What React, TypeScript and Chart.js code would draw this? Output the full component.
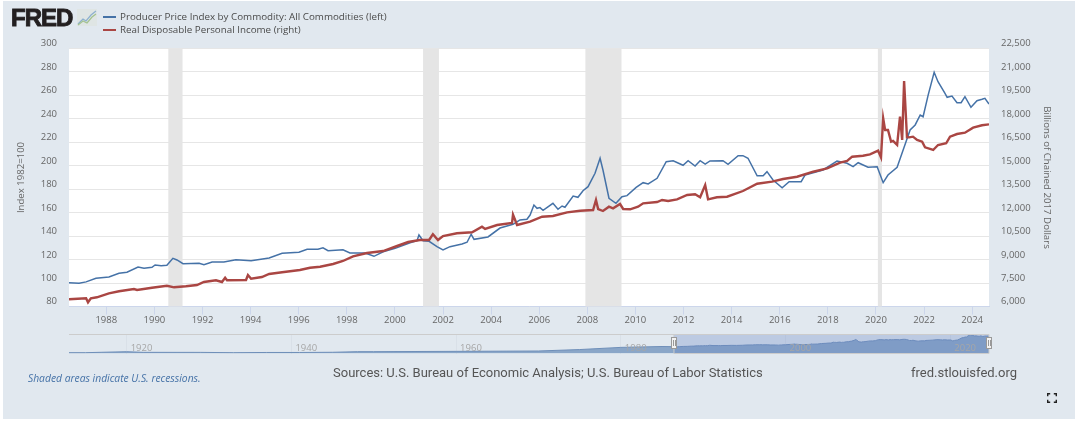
import React, { useEffect, useRef } from "react";
import { Chart, registerables } from "chart.js";

Chart.register(...registerables);

const ppiYears = [1986.45,1986.87,1987.16,1987.57,1988.11,1988.53,1988.86,1989.32,1989.57,1989.9,1990.03,1990.28,1990.52,1990.77,1990.94,1991.19,1991.86,1992.06,1992.4,1992.89,1993.39,1994.02,1994.77,1995.31,1996.01,1996.35,1996.8,1997.01,1997.22,1997.84,1998.13,1998.76,1999.13,1999.51,2000.01,2000.63,2000.92,2001.0,2001.17,2001.42,2001.75,2002.0,2002.29,2002.79,2003.0,2003.17,2003.29,2003.87,2004.37,2004.91,2005.2,2005.49,2005.62,2005.78,2005.91,2006.03,2006.16,2006.57,2006.78,2006.95,2007.07,2007.41,2007.61,2007.82,2008.03,2008.32,2008.53,2008.65,2008.9,2009.19,2009.44,2009.65,2010.03,2010.32,2010.53,2010.9,2011.28,2011.57,2011.98,2012.19,2012.48,2012.69,2012.9,2013.1,2013.64,2013.85,2014.27,2014.47,2014.68,2015.06,2015.31,2015.47,2015.72,2016.1,2016.39,2016.89,2017.05,2017.8,2018.38,2018.8,2019.05,2019.26,2019.67,2020.05,2020.3,2020.5,2020.88,2021.13,2021.42,2021.63,2021.84,2021.96,2022.17,2022.42,2022.58,2022.87,2022.96,2023.16,2023.37,2023.54,2023.7,2023.95,2024.2,2024.41,2024.53,2024.7];
const ppiValues = [100.3,99.8,101,104,105.2,108.3,109.2,113.7,112.6,113.4,115.4,114.8,115.1,121.1,119.7,116.5,116.8,115.6,118,118,119.9,119,121.4,125.4,126.2,128.8,128.8,130.1,127.6,128.4,125.6,125.6,122.8,126.7,129.6,134.4,136.1,141,136.1,135.6,131,128.2,131,133.3,134.8,141.6,137.3,139.3,146.9,150.1,153.8,154.4,158,166.5,163.7,164.3,162,168,162.9,165.7,164.6,174.2,173.1,178.7,182.2,193.6,206.4,196.4,172.3,168,173.6,174.5,181.6,185.6,184.5,189.3,203.5,204.3,200.4,204.3,199.8,204.3,201.5,204.1,204.3,201.3,208.6,208.6,206.4,191.5,191.5,195,187.9,181.3,186.4,186.4,192.1,196.4,204,202.1,199.2,202.6,198.7,199.2,185.6,192.1,198.7,213.4,230.5,234.8,243.3,241.8,260.3,279.7,271.7,261.8,258.4,259.5,253.8,253.8,258.9,249.9,255.5,256.7,257.5,252.7];

const incomeYears = [1986.45,1987.16,1987.24,1987.36,1987.61,1988.11,1988.53,1989.15,1989.28,1989.9,1990.52,1990.82,1991.31,1991.77,1992.06,1992.56,1992.81,1992.94,1993.02,1993.81,1993.89,1994.02,1994.47,1994.77,1995.31,1996.05,1996.47,1996.89,1997.43,1997.84,1998.26,1998.84,1999.51,2000.09,2000.55,2001.04,2001.42,2001.58,2001.79,2002.0,2002.58,2003.21,2003.62,2003.75,2004.25,2004.87,2004.91,2005.08,2005.62,2006.12,2006.57,2007.16,2007.7,2008.24,2008.36,2008.45,2008.65,2008.9,2009.07,2009.36,2009.49,2009.78,2010.11,2010.32,2010.9,2011.11,2011.36,2011.73,2012.15,2012.48,2012.69,2012.9,2013.02,2013.39,2013.81,2014.47,2015.06,2015.68,2016.14,2016.72,2017.39,2017.97,2018.51,2018.8,2019.01,2019.46,2019.75,2020.09,2020.21,2020.3,2020.38,2020.5,2020.63,2020.71,2020.88,2021.0,2021.09,2021.17,2021.29,2021.38,2021.54,2021.71,2021.92,2022.04,2022.38,2022.58,2022.92,2023.08,2023.37,2023.7,2024.04,2024.41,2024.7];
const incomeValues = [6460,6524,6269,6524,6588,6844,6972,7119,7055,7202,7330,7228,7292,7375,7567,7675,7567,7842,7675,7695,8014,7778,7887,8078,8187,8334,8481,8545,8718,8910,9210,9421,9549,9869,10125,10253,10253,10617,10253,10508,10681,10745,11104,10956,11212,11340,11870,11212,11423,11743,11788,12024,12126,12171,12811,12235,12107,12382,12279,12555,12235,12216,12382,12600,12683,12811,12747,12855,13130,13175,12983,13770,12855,12983,13020,13386,13854,13982,14152,14300,14620,14838,15196,15305,15580,15644,15733,15964,15541,18035,17287,17287,16540,16585,16330,18138,16650,20420,16820,16820,16860,16650,16540,16180,16010,16330,16440,16860,17030,17115,17435,17590,17650];

const earlyYears = [1913,1915,1917,1920,1922,1929,1933,1937,1941,1945,1948,1950,1960,1970,1975,1980,1985];
const earlyPpi = [12,12,18,26.6,16.8,16.4,12,15,15,18,27,27,31.7,37,58,90,103];

const recessionStarts = [1990.58,2001.17,2007.92,2020.08];
const recessionEnds = [1991.17,2001.83,2009.42,2020.25];

const leftTicks = [80,100,120,140,160,180,200,220,240,260,280,300];
const rightTicks = [6000,7500,9000,10500,12000,13500,15000,16500,18000,19500,21000,22500];

const viewStart = 1986.45;
const viewEnd = 2024.7;
const historyStart = 1913;

const BLUE = "#4572a7";
const RED = "#aa4643";
const TICKFONT = { family: "'Open Sans'", size: 9.5 };

const pairs = (xs: number[], ys: number[]) => xs.map((x, i) => ({ x, y: ys[i] }));

const mainBackdrop = {
  id: "mainBackdrop",
  beforeDraw(c: any) {
    const { ctx, chartArea: a } = c;
    ctx.save();
    ctx.fillStyle = "#ffffff";
    ctx.fillRect(a.left, a.top, a.right - a.left, a.bottom - a.top);
    ctx.restore();
  },
  beforeDatasetsDraw(c: any) {
    const { ctx, chartArea: a, scales } = c;
    ctx.save();
    ctx.fillStyle = "#e5e5e5";
    recessionStarts.forEach((s, i) => {
      const l = scales.x.getPixelForValue(s);
      const r = scales.x.getPixelForValue(recessionEnds[i]);
      ctx.fillRect(l, a.top, r - l, a.bottom - a.top);
    });
    ctx.restore();
  },
};

const navigatorOverlay = {
  id: "navigatorOverlay",
  afterDatasetsDraw(c: any) {
    const { ctx, chartArea: a, scales } = c;
    const l = scales.x.getPixelForValue(viewStart);
    const r = scales.x.getPixelForValue(viewEnd);
    ctx.save();
    ctx.fillStyle = "rgba(102,133,194,0.3)";
    ctx.fillRect(l, a.top, r - l, a.bottom - a.top);
    ctx.strokeStyle = "#cccccc";
    ctx.lineWidth = 1;
    ctx.beginPath();
    ctx.moveTo(a.left, a.top + 0.5);
    ctx.lineTo(r, a.top + 0.5);
    ctx.lineTo(r, a.bottom);
    ctx.lineTo(l, a.bottom);
    ctx.lineTo(l, a.top);
    ctx.stroke();
    [l, r].forEach((x) => {
      const px = Math.round(x);
      ctx.fillStyle = "#f2f2f2";
      ctx.strokeStyle = "#999999";
      ctx.fillRect(px - 3, a.top + 3, 6, 12);
      ctx.strokeRect(px - 2.5, a.top + 3.5, 5, 11);
      ctx.beginPath();
      ctx.moveTo(px - 0.5, a.top + 6);
      ctx.lineTo(px - 0.5, a.top + 12);
      ctx.moveTo(px + 1.5, a.top + 6);
      ctx.lineTo(px + 1.5, a.top + 12);
      ctx.stroke();
    });
    ctx.restore();
  },
};

const abs = (left: number, top: number, extra: React.CSSProperties = {}): React.CSSProperties => ({
  position: "absolute",
  left,
  top,
  whiteSpace: "nowrap",
  ...extra,
});

export default function App() {
  const mainRef = useRef<HTMLCanvasElement>(null);
  const navRef = useRef<HTMLCanvasElement>(null);

  useEffect(() => {
    const main = new Chart(mainRef.current!, {
      type: "line",
      data: {
        datasets: [
          {
            label: "Real Disposable Personal Income (right)",
            data: pairs(incomeYears, incomeValues),
            yAxisID: "yRight",
            borderColor: RED,
            borderWidth: 2.4,
            pointRadius: 0,
            tension: 0,
          },
          {
            label: "Producer Price Index by Commodity: All Commodities (left)",
            data: pairs(ppiYears, ppiValues),
            yAxisID: "yLeft",
            borderColor: BLUE,
            borderWidth: 1.5,
            pointRadius: 0,
            tension: 0,
          },
        ],
      },
      options: {
        responsive: false,
        animation: false,
        devicePixelRatio: 1,
        layout: { padding: { top: 48.5, left: 0, right: 0, bottom: 0 } },
        plugins: { legend: { display: false }, tooltip: { enabled: false } },
        scales: {
          x: {
            type: "linear",
            min: viewStart,
            max: viewEnd,
            afterFit: (s: any) => { s.height = 117.5; },
            border: { color: "#ccd6eb" },
            grid: { drawOnChartArea: false, drawTicks: true, tickLength: 8, color: "#ccd6eb" },
            ticks: {
              stepSize: 2,
              includeBounds: false,
              autoSkip: false,
              maxRotation: 0,
              padding: 0,
              color: "#666666",
              font: TICKFONT,
              callback: (v: any) => String(v),
            },
          },
          yLeft: {
            type: "linear",
            position: "left",
            min: 80,
            max: 300,
            afterFit: (s: any) => { s.width = 69; },
            afterBuildTicks: (s: any) => { s.ticks = leftTicks.map((value) => ({ value })); },
            border: { display: false },
            grid: { color: "#e6e6e6", drawTicks: false },
            title: {
              display: true,
              text: "Index 1982=100",
              color: "#666666",
              font: { family: "'Open Sans'", size: 9.6 },
              padding: { top: 16, bottom: 0 },
            },
            ticks: { color: "#666666", font: TICKFONT, padding: 12, align: "end" },
          },
          yRight: {
            type: "linear",
            position: "right",
            min: 6000,
            max: 22500,
            afterFit: (s: any) => { s.width = 91; },
            afterBuildTicks: (s: any) => { s.ticks = rightTicks.map((value) => ({ value })); },
            border: { display: false },
            grid: { drawOnChartArea: false, drawTicks: false },
            title: {
              display: true,
              text: "Billions of Chained 2017 Dollars",
              color: "#666666",
              font: { family: "'Open Sans'", size: 9.7 },
              padding: { top: 27, bottom: 0 },
            },
            ticks: {
              color: "#666666",
              font: TICKFONT,
              padding: 12,
              align: "end",
              callback: (v: any) => Number(v).toLocaleString("en-US"),
            },
          },
        },
      },
      plugins: [mainBackdrop],
    } as any);

    const nav = new Chart(navRef.current!, {
      type: "line",
      data: {
        datasets: [
          {
            label: "Navigator",
            data: pairs([...earlyYears, ...ppiYears], [...earlyPpi, ...ppiValues]),
            borderColor: "#6f8fb9",
            backgroundColor: "#8aa6c8",
            borderWidth: 1,
            fill: "origin",
            pointRadius: 0,
            tension: 0,
          },
        ],
      },
      options: {
        responsive: false,
        animation: false,
        devicePixelRatio: 1,
        layout: { padding: { top: 6, left: 69, right: 91, bottom: 4.5 } },
        plugins: { legend: { display: false }, tooltip: { enabled: false } },
        scales: {
          x: {
            type: "linear",
            min: historyStart,
            max: viewEnd,
            afterFit: (s: any) => { s.height = 0; },
            border: { display: false },
            grid: { drawTicks: false, color: "#d9e0e8" },
            ticks: {
              stepSize: 20,
              includeBounds: false,
              autoSkip: false,
              maxRotation: 0,
              align: "start",
              mirror: true,
              padding: 0,
              labelOffset: 4,
              z: 1,
              color: "#a6a6a6",
              font: TICKFONT,
              callback: (v: any) => String(v),
            },
          },
          y: { display: false, min: 0, max: 287 },
        },
      },
      plugins: [navigatorOverlay],
    } as any);

    return () => {
      main.destroy();
      nav.destroy();
    };
  }, []);

  const openSans = "'Open Sans', sans-serif";
  return (
    <div style={{ position: "fixed", left: 0, top: 0, width: 1080, height: 424, background: "#ffffff", overflow: "hidden" }}>
      <div style={abs(3, 1, { width: 1072, height: 418, background: "#e1e8ef" })} />
      <canvas ref={mainRef} width={1080} height={424} style={abs(0, 0, { display: "block" })} />
      <canvas ref={navRef} width={1080} height={30} style={abs(0, 328, { display: "block" })} />

      <div style={abs(11, 3.5, { fontFamily: "'Liberation Sans', sans-serif", fontWeight: 700, fontSize: 24, lineHeight: "28px", color: "#231f20", letterSpacing: -1, WebkitTextStroke: "0.9px #231f20" })}>FRED</div>
      <svg style={abs(77, 9)} width={20} height={17} viewBox="0 0 20 17">
        <rect width={20} height={17} fill="#dfe5e4" />
        <polyline points="1,15 6,10 9,12 14,6 19,2" fill="none" stroke="#8db0cf" strokeWidth={1.2} />
        <polyline points="1,16 6,12 10,14 15,8 19,5" fill="none" stroke="#a3c28f" strokeWidth={1.2} />
      </svg>

      <div style={abs(103, 16, { width: 13, height: 2.4, background: BLUE })} />
      <div style={abs(103, 28.5, { width: 13, height: 2.4, background: RED })} />
      <div style={abs(120, 10, { fontFamily: openSans, fontSize: 9.8, lineHeight: "14px", color: "#4a4a4a" })}>Producer Price Index by Commodity: All Commodities (left)</div>
      <div style={abs(120, 22.5, { fontFamily: openSans, fontSize: 9.8, lineHeight: "14px", color: "#4a4a4a" })}>Real Disposable Personal Income (right)</div>

      <div style={abs(28, 370.5, { fontFamily: openSans, fontStyle: "italic", fontSize: 10.3, lineHeight: "14px", color: "#4572a7" })}>Shaded areas indicate U.S. recessions.</div>
      <div style={abs(333, 365, { fontFamily: "Roboto, sans-serif", fontSize: 13, lineHeight: "16px", color: "#555555" })}>Sources: U.S. Bureau of Economic Analysis; U.S. Bureau of Labor Statistics</div>
      <div style={abs(911, 365, { fontFamily: "Roboto, sans-serif", fontSize: 13, lineHeight: "16px", color: "#555555" })}>fred.stlouisfed.org</div>

      <svg style={abs(1047, 393)} width={10} height={10} viewBox="0 0 10 10" fill="none" stroke="#222222" strokeWidth={1.4}>
        <path d="M0.7 3.2V0.7H3.2M6.8 0.7H9.3V3.2M9.3 6.8V9.3H6.8M3.2 9.3H0.7V6.8" />
      </svg>
    </div>
  );
}
